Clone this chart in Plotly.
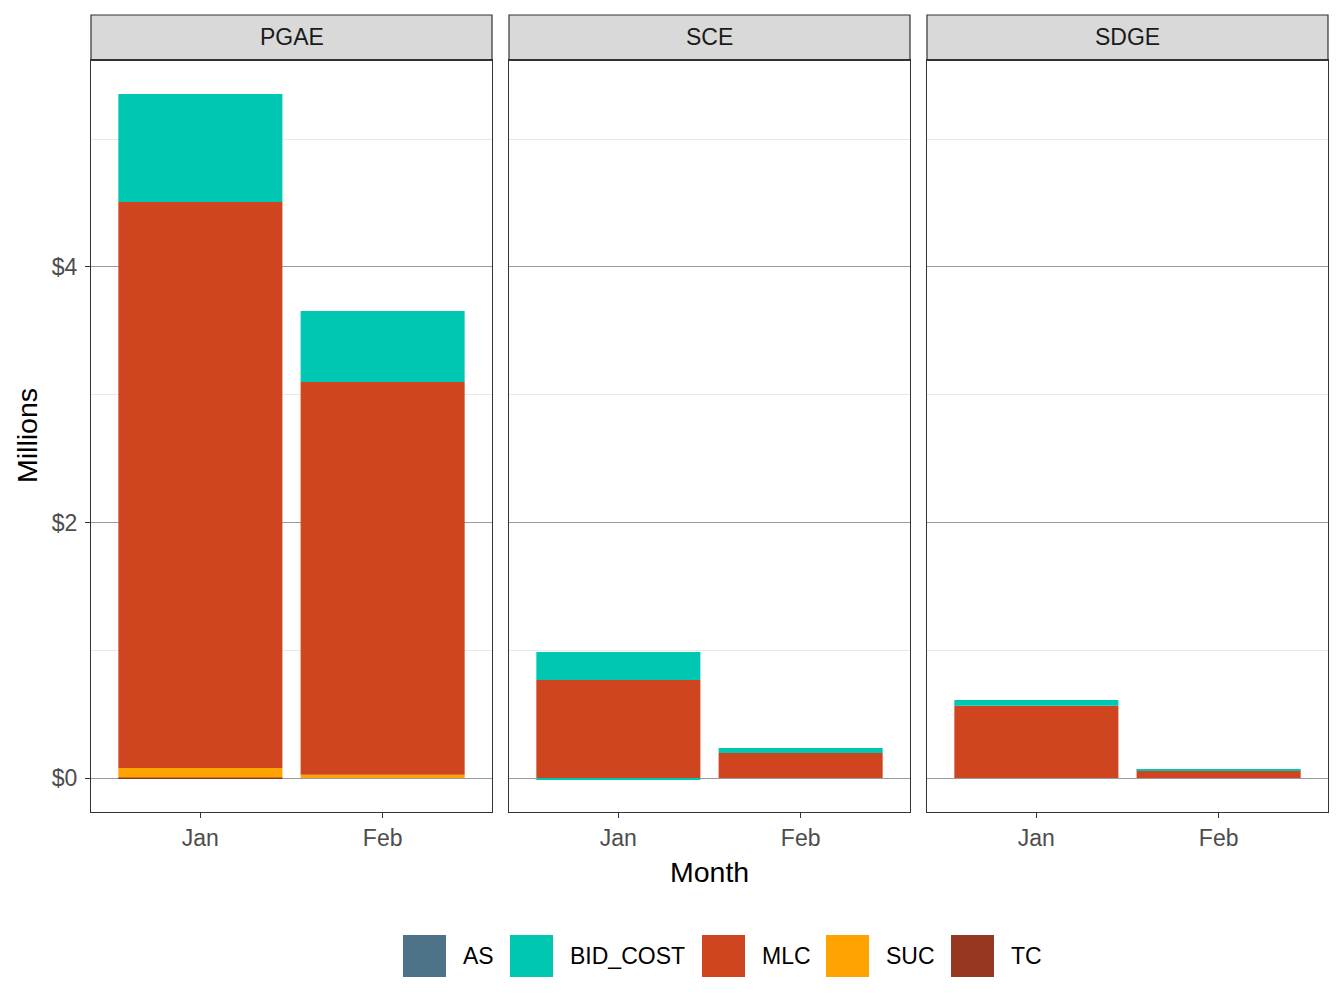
import plotly.graph_objects as go

regions = ["PGAE", "SCE", "SDGE"]
months = ["Jan", "Feb"]
series = ["AS", "BID_COST", "MLC", "SUC", "TC"]
colors = {"AS": "#4E7389", "BID_COST": "#00C7B1", "MLC": "#CF4520",
          "SUC": "#FFA300", "TC": "#963821"}

# values in millions of dollars, per region [Jan, Feb]
as_vals = [[0.0, 0.0], [0.0, 0.0], [0.0, 0.0]]
bid_cost = [[0.845, 0.556], [0.219, 0.039], [0.045, 0.008]]
bid_cost_neg = [[0.0, 0.0], [-0.012, 0.0], [0.0, 0.0]]
mlc = [[4.430, 3.074], [0.767, 0.196], [0.566, 0.062]]
suc = [[0.073, 0.026], [0.0, 0.0], [0.0, 0.0]]
tc = [[0.005, 0.0], [0.0, 0.0], [0.0, 0.0]]

y_ticks = [0, 2, 4]
y_tick_labels = ["$0", "$2", "$4"]

# stacking order: bottom -> top (negative part drawn below zero)
stack = [("TC", tc), ("SUC", suc), ("MLC", mlc), ("BID_COST", bid_cost),
         ("AS", as_vals), ("BID_COST", bid_cost_neg)]

OFF = 8  # page body margin
W, H = 1344 - OFF, 1008 - OFF
L, R = 91 - OFF, 1344 - 1328
T, B = 60 - OFF, 1008 - 812
pw = W - L - R
ph = H - T - B
panel_px = [(91, 492), (509, 910), (927, 1328)]
domains = [[(a - 91) / pw, (b - 91) / pw] for a, b in panel_px]


def px_y(py):
    return (812 - py) / ph


def px_x(px):
    return (px - 91) / pw


FONT = "Liberation Sans, Arial, sans-serif"
tick_font = dict(family=FONT, size=23, color="#4d4d4d")
yrange = [-0.266, 5.62]

fig = go.Figure()
for i, reg in enumerate(regions):
    xa = "x" if i == 0 else f"x{i+1}"
    ya = "y" if i == 0 else f"y{i+1}"
    for name, data in stack:
        fig.add_trace(go.Bar(
            x=months, y=data[i], name=name, xaxis=xa, yaxis=ya,
            marker=dict(color=colors[name], line=dict(width=0)),
            width=0.9, showlegend=False, hoverinfo="x+y+name"))

for i in range(3):
    xkey = "xaxis" if i == 0 else f"xaxis{i+1}"
    ykey = "yaxis" if i == 0 else f"yaxis{i+1}"
    fig.layout[xkey] = dict(
        domain=domains[i], anchor="y" if i == 0 else f"y{i+1}", range=[-0.6, 1.6],
        type="category", categoryorder="array", categoryarray=months,
        showline=True, mirror=True, linecolor="#333333", linewidth=1.2,
        ticks="outside", ticklen=5, tickwidth=1.2, tickcolor="#333333",
        tickfont=tick_font, showgrid=False, zeroline=False, fixedrange=True)
    fig.layout[ykey] = dict(
        domain=[0, 1], range=yrange, anchor="x" if i == 0 else f"x{i+1}",
        tickvals=y_ticks, ticktext=y_tick_labels,
        showticklabels=(i == 0), ticks="outside" if i == 0 else "",
        ticklen=5, tickwidth=1.2, tickcolor="#333333", tickfont=tick_font,
        ticklabelstandoff=3,
        showline=True, mirror=True, linecolor="#333333", linewidth=1.2,
        showgrid=True, gridcolor="#9a9a9a", gridwidth=1, zeroline=False,
        fixedrange=True,
        minor=dict(tick0=1, dtick=2, showgrid=True, gridcolor="#e8e8e8", gridwidth=1))

fig.update_layout(
    barmode="relative", bargap=0.1,
    width=W, height=H, margin=dict(l=L, r=R, t=T, b=B, pad=0),
    plot_bgcolor="white", paper_bgcolor="white",
    font=dict(family=FONT, color="#000000"),
    showlegend=False)

shapes = []
annotations = []
strip_top = px_y(15)
for i, reg in enumerate(regions):
    x0, x1 = domains[i]
    shapes.append(dict(type="rect", xref="paper", yref="paper", x0=x0, x1=x1,
                       y0=1, y1=strip_top, fillcolor="#d9d9d9",
                       line=dict(color="#333333", width=1.2), layer="above"))
    shapes.append(dict(type="line", xref="paper", yref="paper", x0=x0, x1=x1,
                       y0=1, y1=1, line=dict(color="#333333", width=2.2),
                       layer="above"))
    annotations.append(dict(text=reg, x=(x0 + x1) / 2, y=(1 + strip_top) / 2,
                            xref="paper", yref="paper", showarrow=False,
                            xanchor="center", yanchor="middle",
                            font=dict(size=23, color="#1a1a1a")))

annotations.append(dict(text="Month", x=(domains[1][0] + domains[1][1]) / 2,
                        y=px_y(872), xref="paper", yref="paper",
                        showarrow=False, xanchor="center", yanchor="middle",
                        font=dict(size=28.5, color="#000000")))
annotations.append(dict(text="Millions", x=px_x(27), y=px_y(436), xref="paper",
                        yref="paper", showarrow=False, textangle=-90,
                        xanchor="center", yanchor="middle",
                        font=dict(size=28.5, color="#000000")))

# legend drawn at bottom
key_px = [403, 510, 702, 826, 951]
for name, kx in zip(series, key_px):
    shapes.append(dict(type="rect", xref="paper", yref="paper",
                       x0=px_x(kx), x1=px_x(kx + 43),
                       y0=px_y(977), y1=px_y(935),
                       fillcolor=colors[name], line=dict(width=0)))
    annotations.append(dict(text=name, x=px_x(kx + 58), y=px_y(956),
                            xref="paper", yref="paper", showarrow=False,
                            xanchor="left", yanchor="middle",
                            font=dict(size=23, color="#000000")))

fig.update_layout(shapes=shapes, annotations=annotations)
fig.write_html("out.html")
